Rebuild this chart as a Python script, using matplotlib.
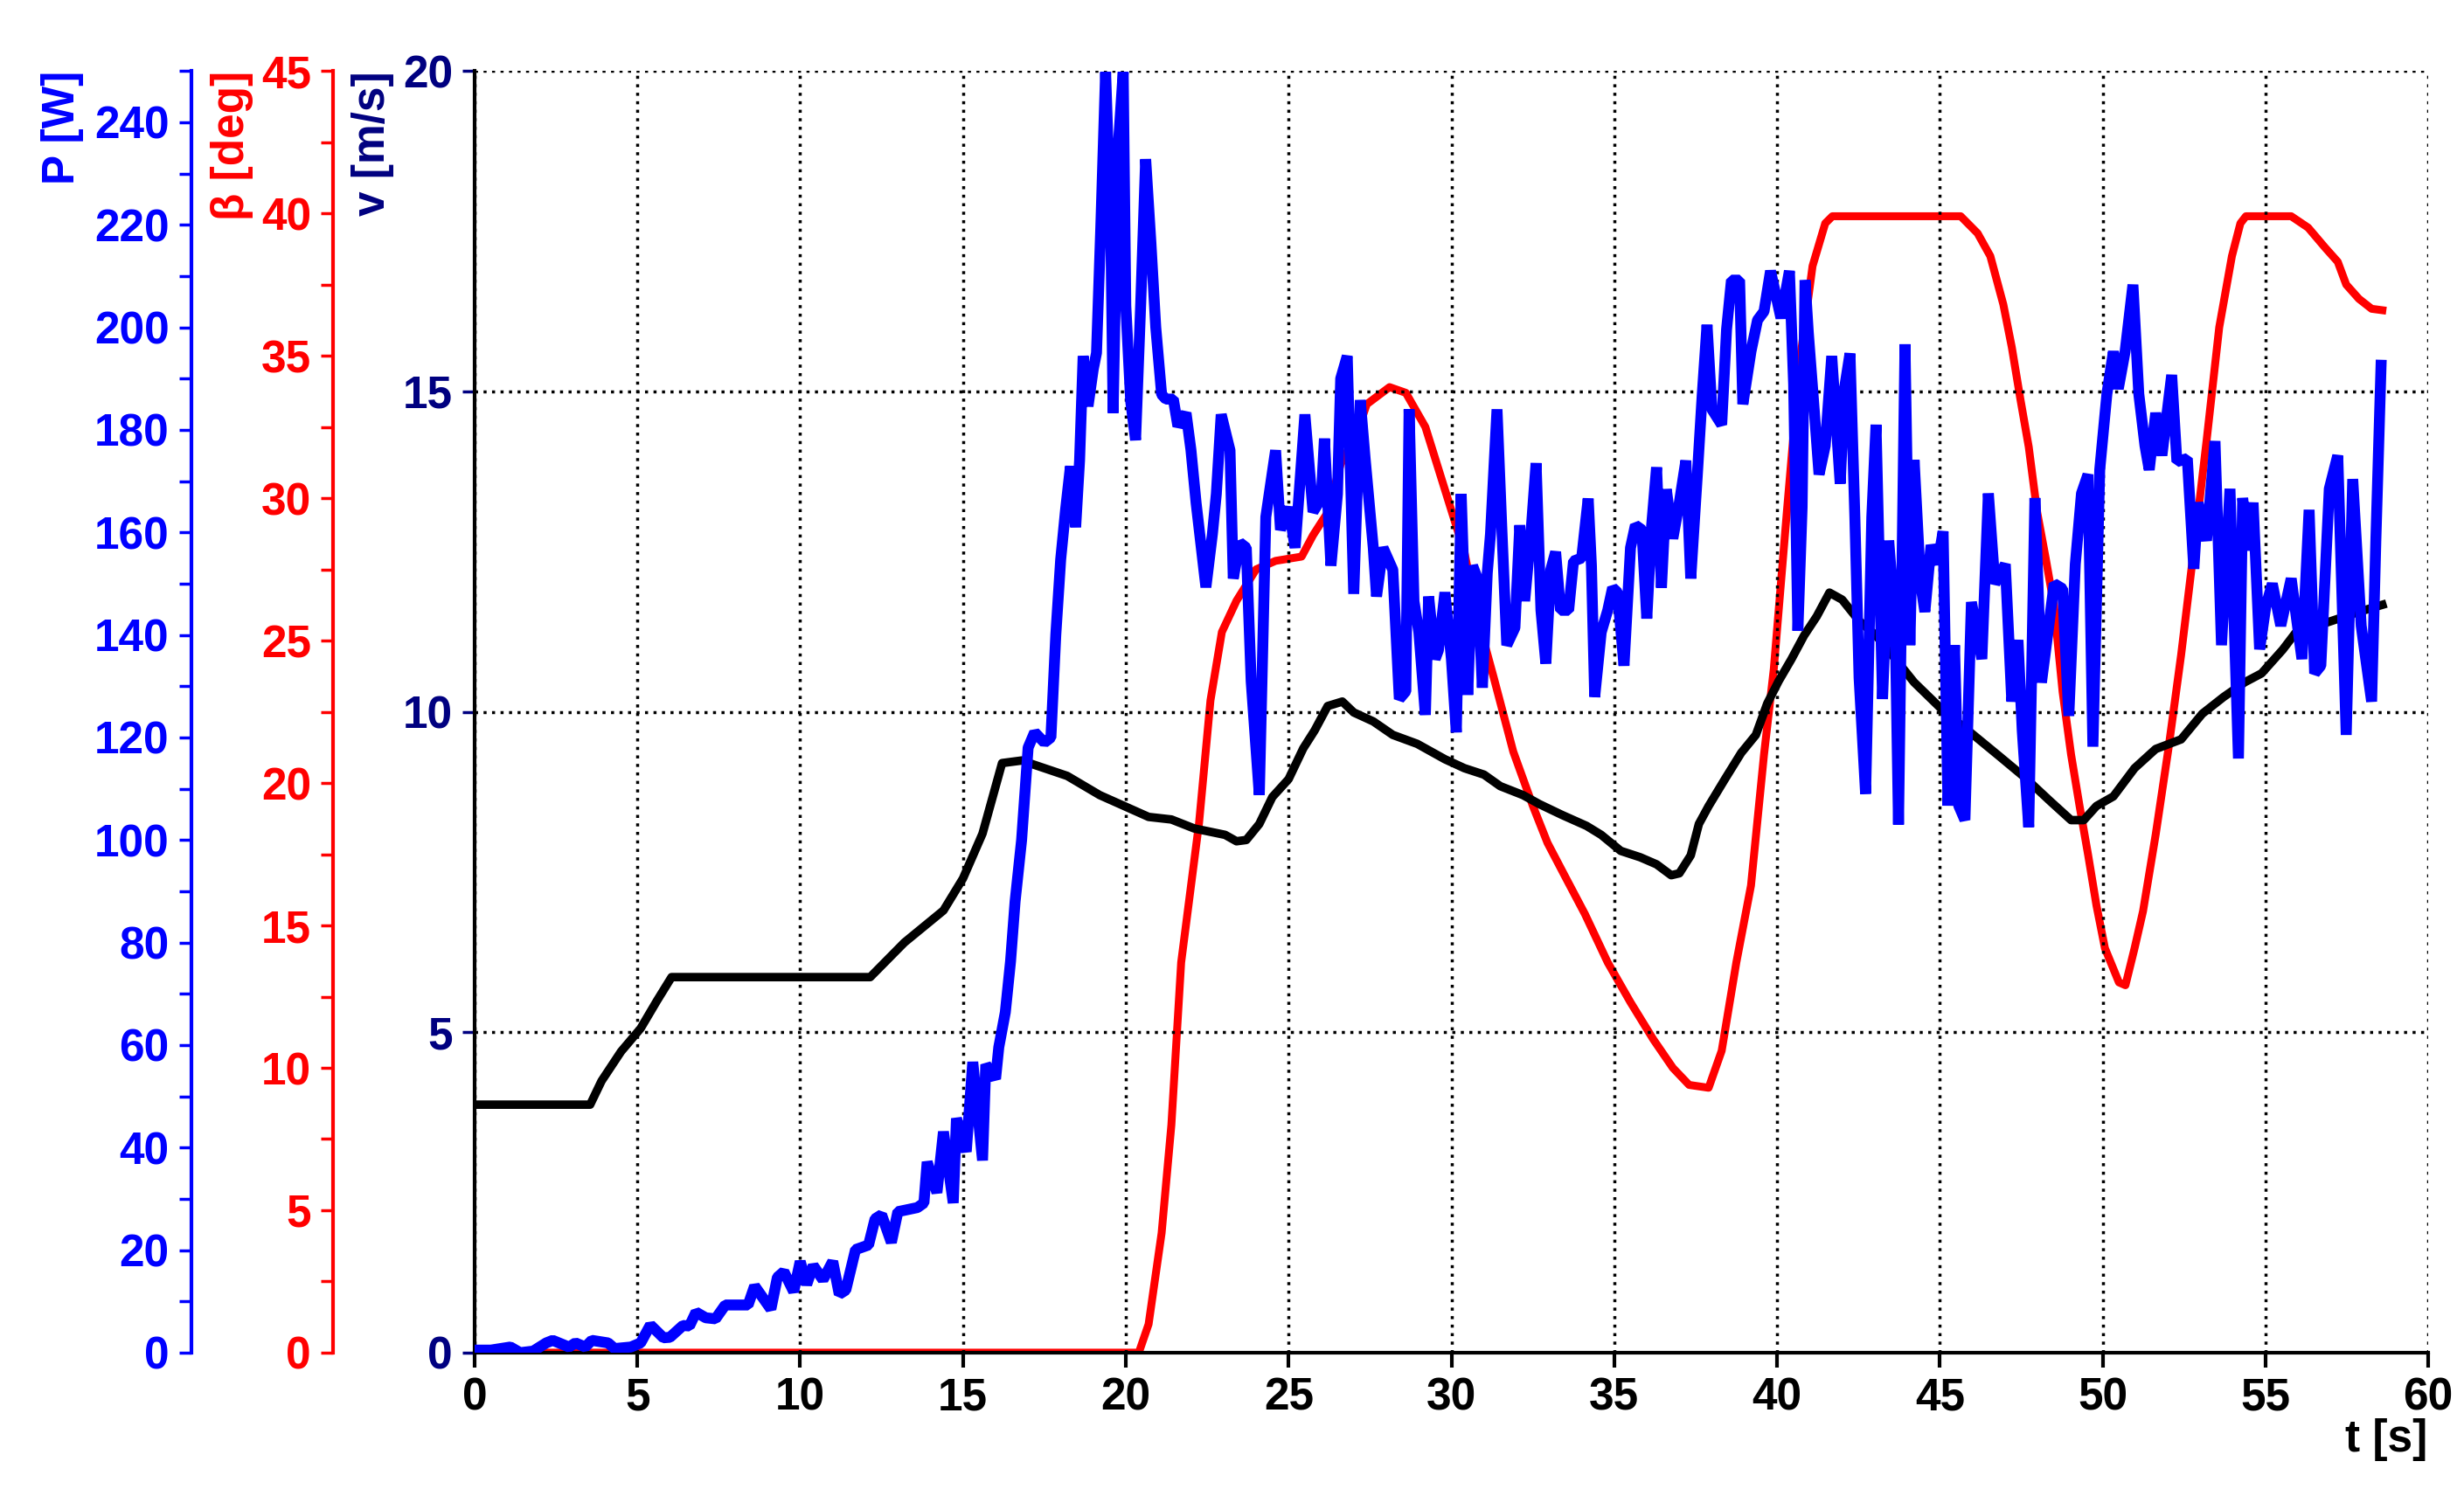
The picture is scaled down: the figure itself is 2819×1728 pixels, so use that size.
import matplotlib
matplotlib.use('Agg')
import matplotlib.pyplot as plt
from matplotlib.ticker import MultipleLocator

plt.rcParams['font.family'] = ['Liberation Sans', 'DejaVu Sans']
plt.rcParams['font.weight'] = 'bold'

# wind speed v [m/s]
v_t = [0, 3.55, 3.9, 4.5, 5.1, 5.6, 6.05, 12.15, 13.2, 14.4, 15.0, 15.6, 16.2, 16.8,
       18.2, 19.2, 20.7, 21.4, 22.1, 23.05, 23.4, 23.7, 24.1, 24.5, 25.0, 25.45, 25.8,
       26.2, 26.65, 27.0, 27.6, 28.2, 28.95, 29.8, 30.4, 31.0, 31.5, 32.2, 32.7, 33.4,
       34.15, 34.6, 35.2, 35.8, 36.3, 36.75, 37.0, 37.35, 37.6, 37.9, 38.4, 38.9, 39.35,
       39.7, 40.05, 40.44, 40.83, 41.22, 41.61, 42.0, 42.52, 43.04, 43.69, 44.21, 45.12,
       46.03, 46.82, 47.6, 48.38, 49.03, 49.42, 49.81, 50.33, 50.98, 51.63, 52.41, 53.06,
       53.71, 54.36, 54.88, 55.53, 55.92, 56.57, 57.22, 57.87, 58.59]
v_val = [3.87, 3.87, 4.24, 4.7, 5.06, 5.49, 5.86, 5.86, 6.4, 6.9, 7.4, 8.1, 9.2, 9.24,
         9.0, 8.7, 8.36, 8.32, 8.18, 8.08, 7.98, 8.0, 8.25, 8.67, 8.95, 9.43, 9.71,
         10.09, 10.16, 9.99, 9.85, 9.64, 9.5, 9.26, 9.12, 9.02, 8.84, 8.7, 8.56, 8.39,
         8.22, 8.08, 7.83, 7.73, 7.62, 7.45, 7.48, 7.76, 8.25, 8.53, 8.95, 9.36, 9.64,
         10.13, 10.48, 10.82, 11.19, 11.49, 11.86, 11.75, 11.42, 11.19, 10.79, 10.46, 10.01,
         9.64, 9.31, 8.98, 8.61, 8.31, 8.31, 8.53, 8.68, 9.12, 9.42, 9.57, 9.97,
         10.23, 10.46, 10.6, 10.97, 11.23, 11.34, 11.45, 11.56, 11.67]

# pitch angle beta [deg]
b_t = [0, 20.4, 20.7, 21.1, 21.4, 21.7, 22.25, 22.6, 22.95, 23.4, 24.0, 24.6, 25.4,
       25.75, 26.2, 26.6, 27.1, 27.4, 28.1, 28.6, 29.2, 29.8, 30.4, 30.8, 31.3, 31.9,
       32.5, 32.95, 33.5, 34.1, 34.8, 35.5, 36.2, 36.8, 37.3, 37.9, 38.3, 38.75, 39.2,
       39.6, 39.9, 40.3, 40.7, 41.09, 41.48, 41.7, 45.64, 46.16, 46.55, 46.95, 47.21,
       47.47, 47.73, 47.99, 48.25, 48.51, 48.77, 49.03, 49.29, 49.55, 49.81, 50.07, 50.5,
       50.7, 50.98, 51.24, 51.63, 52.02, 52.41, 52.8, 53.19, 53.58, 53.97, 54.23, 54.4,
       55.79, 56.31, 56.83, 57.22, 57.48, 57.87, 58.26, 58.59]
b_val = [0, 0, 1.0, 4.2, 8.0, 13.7, 18.6, 22.9, 25.3, 26.4, 27.5, 27.8, 27.95,
         28.7, 29.5, 31.2, 32.3, 33.3, 33.9, 33.7, 32.5, 30.3, 28.1, 25.8, 23.7, 21.1,
         19.2, 17.9, 16.7, 15.4, 13.7, 12.3, 11.0, 10.0, 9.4, 9.3, 10.6, 13.7, 16.4,
         21.0, 24.0, 29.5, 34.8, 38.15, 39.65, 39.9, 39.9, 39.3, 38.5, 36.8, 35.3,
         33.5, 31.8, 29.5, 27.9, 26.2, 23.2, 21.0, 19.2, 17.5, 15.7, 14.2, 13.0,
         12.9, 14.2, 15.5, 18.2, 21.2, 24.5, 28.2, 32.0, 36.0, 38.5, 39.65, 39.9,
         39.9, 39.5, 38.8, 38.3, 37.5, 37.0, 36.65, 36.6]

# power P [W]
p_t = [0, 0.5, 1.1, 1.4, 1.8, 2.2, 2.4, 2.9, 3.1, 3.4, 3.6, 4.1, 4.3, 4.8, 5.1, 5.4,
       5.8, 6.0, 6.4, 6.6, 6.8, 7.1, 7.4, 7.7, 8.4, 8.6, 9.1, 9.3, 9.5, 9.8, 10.0, 10.2,
       10.4, 10.7, 11.0, 11.2, 11.4, 11.7, 12.1, 12.3, 12.5, 12.8, 13.0, 13.6, 13.8,
       13.9, 14.2, 14.4, 14.7, 14.8, 15.1, 15.3, 15.6, 15.7, 16.0, 16.1, 16.3, 16.46,
       16.6, 16.8, 17.0, 17.2, 17.5, 17.7, 17.85, 18.0, 18.15, 18.3, 18.46, 18.58,
       18.69, 18.84, 19.0, 19.1, 19.23, 19.38, 19.54, 19.61, 19.77, 19.92, 20.0, 20.15,
       20.3, 20.46, 20.61, 20.77, 20.92, 21.1, 21.23, 21.46, 21.6, 21.85, 22.0, 22.16,
       22.46, 22.66, 22.78, 22.93, 23.2, 23.3, 23.5, 23.7, 23.85, 24.1, 24.2, 24.3,
       24.6, 24.75, 25.0, 25.2, 25.5, 25.75, 26.0, 26.1, 26.3, 26.5, 26.6, 26.8, 27.0,
       27.2, 27.35, 27.6, 27.7, 27.9, 28.2, 28.4, 28.6, 28.7, 28.85, 29.0, 29.2, 29.3,
       29.5, 29.6, 29.8, 30.0, 30.15, 30.3, 30.5, 30.65, 30.8, 30.95, 31.1, 31.2, 31.4,
       31.55, 31.7, 31.95, 32.1, 32.25, 32.45, 32.6, 32.75, 32.9, 33.05, 33.2, 33.35,
       33.6, 33.75, 34.0, 34.2, 34.3, 34.4, 34.6, 34.8, 34.95, 35.1, 35.3, 35.5, 35.65,
       35.85, 36.0, 36.15, 36.3, 36.45, 36.6, 36.8, 37.0, 37.2, 37.35, 37.55, 37.7,
       37.85, 38.0, 38.3, 38.45, 38.6, 38.85, 38.95, 39.2, 39.4, 39.6, 39.8, 40.12,
       40.38, 40.51, 40.64, 40.77, 40.86, 40.96, 41.16, 41.29, 41.48, 41.68, 41.94,
       42.07, 42.24, 42.39, 42.52, 42.72, 42.91, 43.04, 43.24, 43.43, 43.63, 43.73,
       43.93, 44.08, 44.21, 44.41, 44.54, 44.73, 44.93, 45.1, 45.25, 45.45, 45.58,
       45.77, 45.97, 46.29, 46.49, 46.69, 47.01, 47.21, 47.4, 47.53, 47.73, 47.92,
       48.12, 48.31, 48.51, 48.77, 48.96, 49.16, 49.35, 49.55, 49.7, 49.91, 50.13,
       50.33, 50.48, 50.69, 50.93, 51.11, 51.3, 51.43, 51.63, 51.82, 52.12, 52.28,
       52.6, 52.8, 52.93, 53.19, 53.45, 53.65, 53.91, 54.17, 54.3, 54.47, 54.62, 54.82,
       55.01, 55.21, 55.47, 55.79, 56.12, 56.34, 56.51, 56.7, 56.96, 57.22, 57.48,
       57.68, 57.94, 58.26, 58.39, 58.55]
p_val = [0.5, 0.5, 1.1, 0, 0.3, 1.9, 2.4, 1.1, 1.9, 1.1, 2.4, 1.9, 0.8, 1.1, 1.9, 5.4,
         2.9, 3.0, 5.3, 5.2, 7.9, 6.8, 6.6, 9.3, 9.3, 13, 8.5, 14.7, 15.8, 11.9, 17.8, 13.3,
         17, 14.2, 17.8, 11.4, 12.2, 20.1, 21, 26.1, 26.9, 21.5, 27.5, 28.3, 29.2,
         37.2, 31.2, 43.1, 29.2, 45.7, 39.2, 56.7, 37.5, 56.2, 53.4, 59.6, 66.4, 76.3,
         88, 100, 118, 121, 119, 120, 140, 154.7, 164.4, 172.9, 161, 174,
         194.4, 184.6, 191.8, 195, 219.2, 249.8, 219, 183.3, 235.5, 249.8, 204.2, 185.6,
         178, 205, 232.8, 216.6, 200, 186.9, 186, 186, 180.7, 183.3, 176.1, 165.7,
         149.3, 159.7, 167.5, 183, 176, 151, 158, 157, 131, 108.8, 136, 163,
         176, 160.5, 164.9, 157, 183, 164, 166.6, 178.3, 153.5, 167.5, 190, 194.4, 148,
         185.8, 174.4, 157, 147.5, 157, 152.7, 127.5, 129, 184, 146.6, 140.5, 124.4, 147.5,
         135.3, 137, 148.3, 135.3, 121, 167.5, 128.3, 153.5, 151, 129.7, 152, 159.7, 184,
         160.5, 138, 141.4, 161.4, 146.6, 160.5, 173.5, 144.8, 134.4, 152.7, 156.2, 144.8,
         144.8, 154.4, 155, 166.6, 153.5, 127.9, 140.5, 144.8, 149.2, 148.3, 134, 157, 161.4,
         160.5, 143.2, 161.4, 172.7, 149.2, 168.4, 158.8, 165.8, 174, 151, 171, 186.6,
         200.5, 184, 181, 199.6, 209.2, 209.2, 185, 195.3, 201.4, 203.1, 211, 201.8,
         211, 188.9, 140.8, 164.9, 209.2, 199, 182.4, 171.3, 176.9, 194.4, 169.5,
         188, 194.9, 163, 131.6, 109, 163, 181, 127.5, 158.4, 141.8, 103,
         196.7, 138, 174.1, 150, 144.5, 157.5, 153.8, 160.2, 106.7, 138, 106.7,
         103.9, 146.4, 135.3, 167.6, 150, 153.8, 127, 139, 121.4, 102.5, 166.7,
         130.7, 140, 150, 149, 124.2, 153.8, 167.6, 171.3, 118.2, 172.2, 187,
         195.3, 188, 195.3, 208.3, 187, 176.9, 172.2, 183.3, 175, 190.7, 173.8,
         174.4, 152.9, 165.8, 158.4, 177.8, 138, 168.5, 115.9, 166.7, 156.5, 165.8, 137.2,
         145.5, 150, 141.8, 151, 135.3, 164.4, 132.5, 134, 168.5, 175, 120.5,
         170.4, 141.8, 127, 158.4, 192.6]

x_ticks = list(range(0, 61, 5))

NAVY = '#000080'
BLUE = '#0000FF'
RED = '#FF0000'
FS = 37

fig = plt.figure(figsize=(28.19, 17.28), dpi=100)
ax = fig.add_axes([0.1926, 0.1042, 0.7929, 0.8488])
axP = ax.twinx()
axB = ax.twinx()

# draw order: red at the bottom, then black, blue on top
axB.set_zorder(1)
ax.set_zorder(2)
axP.set_zorder(3)
ax.patch.set_visible(False)
axP.patch.set_visible(False)

axB.plot(b_t, b_val, color=RED, lw=6.5, solid_joinstyle='round')
ax.plot(v_t, v_val, color='black', lw=7.0, solid_joinstyle='round')
axP.plot(p_t, p_val, color=BLUE, lw=9.0, solid_joinstyle='bevel')

ax.set_xlim(0, 60)
ax.set_ylim(0, 20)
axP.set_ylim(0, 250)
axB.set_ylim(0, 45)

ax.set_xticks(x_ticks)
ax.yaxis.set_major_locator(MultipleLocator(5))
ax.grid(True, color='black', linestyle=(0, (1, 1.8)), lw=2.5)
for s in ['top', 'right']:
    ax.spines[s].set_visible(False)
ax.spines['left'].set_linewidth(3)
ax.spines['bottom'].set_linewidth(3)
ax.tick_params(axis='x', length=12, width=3, pad=8, labelsize=FS, colors='black')
ax.tick_params(axis='y', length=10, width=2.5, pad=8, labelsize=FS, colors=NAVY)

for a, col, pos, major, minor in [(axP, BLUE, -0.145, 20, 10), (axB, RED, -0.0725, 5, 2.5)]:
    a.yaxis.tick_left()
    a.yaxis.set_label_position('left')
    for s in ['top', 'right', 'bottom']:
        a.spines[s].set_visible(False)
    a.spines['left'].set_position(('axes', pos))
    a.spines['left'].set_color(col)
    a.spines['left'].set_linewidth(3)
    a.yaxis.set_major_locator(MultipleLocator(major))
    a.yaxis.set_minor_locator(MultipleLocator(minor))
    a.tick_params(axis='y', which='both', length=10, width=2.5, pad=8,
                  labelsize=FS, colors=col)

for lab in ax.get_xticklabels() + ax.get_yticklabels() + axP.get_yticklabels() + axB.get_yticklabels():
    lab.set_fontweight('bold')

ax.text(-0.2107, 1.0, 'P [W]', transform=ax.transAxes, rotation=90, ha='center',
        va='top', fontsize=FS, fontweight='bold', color=BLUE)
ax.text(-0.124, 1.0, 'β [deg]', transform=ax.transAxes, rotation=90, ha='center',
        va='top', fontsize=FS, fontweight='bold', color=RED)
ax.text(-0.0523, 1.0, 'v [m/s]', transform=ax.transAxes, rotation=90, ha='center',
        va='top', fontsize=FS, fontweight='bold', color=NAVY)
ax.text(0.9785, -0.068, 't [s]', transform=ax.transAxes, ha='center', va='center',
        fontsize=FS, fontweight='bold', color='black')

fig.savefig('out.png', dpi=100)
